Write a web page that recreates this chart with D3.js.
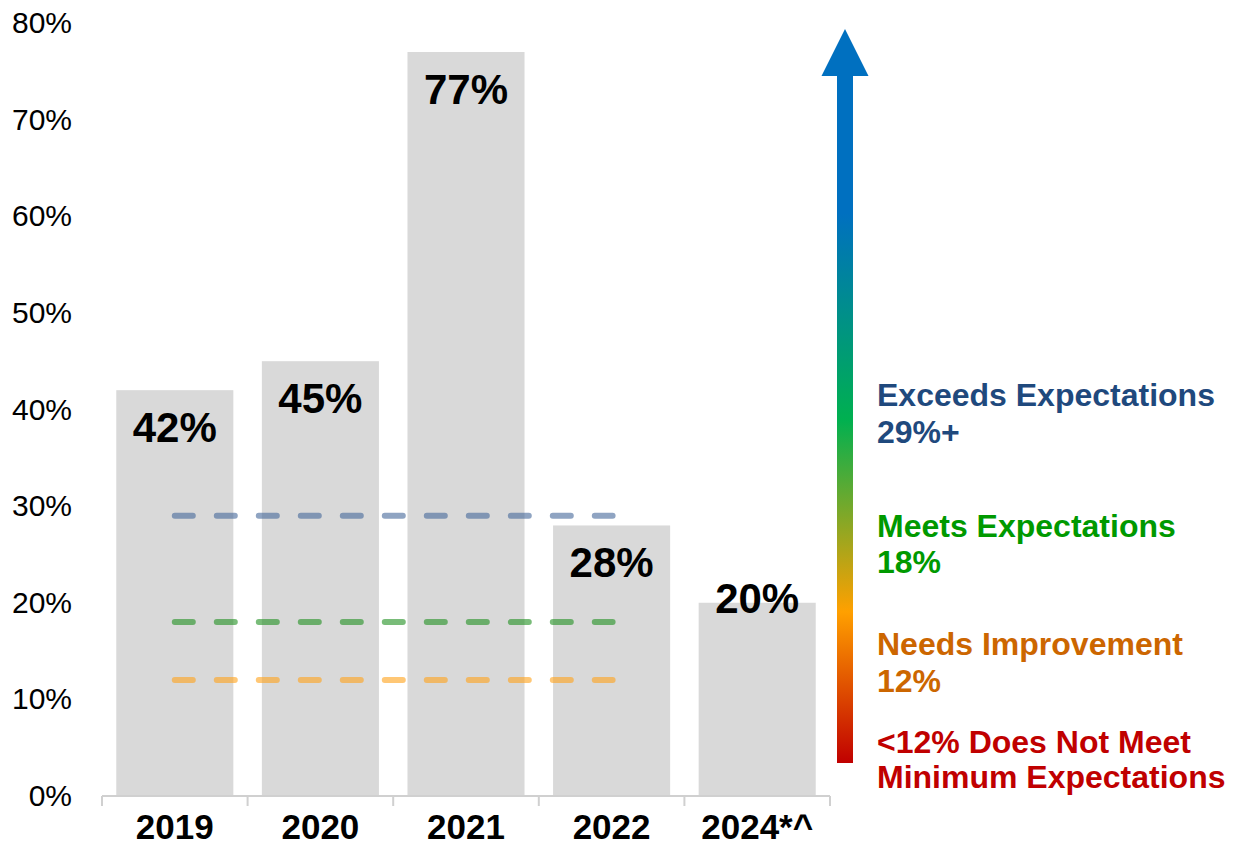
<!DOCTYPE html>
<html>
<head>
<meta charset="utf-8">
<script src="https://cdn.jsdelivr.net/npm/d3@7"></script>
<style>
  html, body { margin: 0; padding: 0; background: #ffffff; }
  svg { display: block; font-family: Arial, "Liberation Sans", sans-serif; }
</style>
</head>
<body>
<svg id="chart" width="1234" height="846"></svg>
<script>
// Share of results per year
const years = ["2019", "2020", "2021", "2022", "2024*^"];
const shares = [42, 45, 77, 28, 20];
// where each value label sits: inside the bar end, or riding on its top edge
const labelPlacement = ["inside", "inside", "inside", "inside", "edge"];

// Performance thresholds drawn as dashed reference lines
const thresholdValues = [29, 18, 12];
const thresholdColors = ["#44689a", "#209020", "#ffa219"];

// Rating key beside the arrow
const ratingTitles = ["Exceeds Expectations", "Meets Expectations", "Needs Improvement", "<12% Does Not Meet"];
const ratingDetails = ["29%+", "18%", "12%", "Minimum Expectations"];
const ratingColors = ["#1f497d", "#009900", "#cc6600", "#c00000"];

const yTicks = [0, 10, 20, 30, 40, 50, 60, 70, 80];

const svg = d3.select("#chart");

const x = d3.scaleBand()
  .domain(years)
  .range([102, 830])
  .paddingInner(0.196)
  .paddingOuter(0.098);

const y = d3.scaleLinear()
  .domain([0, 80])
  .range([796, 23]);

// Y axis: labels only
const yAxis = svg.append("g")
  .attr("transform", "translate(72,0)")
  .call(d3.axisLeft(y).tickValues(yTicks).tickSize(0).tickPadding(0).tickFormat(d => d + "%"));
yAxis.select(".domain").remove();
yAxis.selectAll("text")
  .attr("font-size", 30)
  .attr("fill", "#000")
  .attr("font-family", "Arial, 'Liberation Sans', sans-serif");

// Bars
svg.append("g").selectAll("rect")
  .data(years)
  .join("rect")
  .attr("x", d => x(d))
  .attr("width", x.bandwidth())
  .attr("y", (d, i) => y(shares[i]))
  .attr("height", (d, i) => y(0) - y(shares[i]))
  .attr("fill", "#d9d9d9");

// Dashed threshold lines spanning 2019 → 2022
const lineStart = x(years[0]) + x.bandwidth() / 2;
const lineEnd = x(years[3]) + x.bandwidth() / 2;
svg.append("g").selectAll("line")
  .data(thresholdValues)
  .join("line")
  .attr("x1", lineStart)
  .attr("x2", lineEnd + 1)
  .attr("y1", d => y(d))
  .attr("y2", d => y(d))
  .attr("stroke", (d, i) => thresholdColors[i])
  .attr("stroke-opacity", 0.6)
  .attr("stroke-width", 6)
  .attr("stroke-linecap", "round")
  .attr("stroke-dasharray", "18,24");

// Value labels
svg.append("g").selectAll("text")
  .data(years)
  .join("text")
  .attr("x", d => x(d) + x.bandwidth() / 2)
  .attr("y", (d, i) => y(shares[i]) + (labelPlacement[i] === "inside" ? 52 : 10))
  .attr("text-anchor", "middle")
  .attr("font-size", 42)
  .attr("font-weight", "bold")
  .attr("fill", "#000")
  .text((d, i) => shares[i] + "%");

// X axis: baseline with category dividers
const xAxisG = svg.append("g");
xAxisG.append("line")
  .attr("x1", 102).attr("x2", 830)
  .attr("y1", y(0)).attr("y2", y(0))
  .attr("stroke", "#d0d0d0").attr("stroke-width", 2);
const dividers = years.map(d => x(d) - x.step() * x.paddingInner() / 2).concat([830]);
dividers[0] = 102;
xAxisG.selectAll("line.tick")
  .data(dividers)
  .join("line")
  .attr("class", "tick")
  .attr("x1", d => d).attr("x2", d => d)
  .attr("y1", y(0)).attr("y2", y(0) + 10)
  .attr("stroke", "#d0d0d0").attr("stroke-width", 2);
xAxisG.selectAll("text")
  .data(years)
  .join("text")
  .attr("x", d => x(d) + x.bandwidth() / 2)
  .attr("y", 839)
  .attr("text-anchor", "middle")
  .attr("font-size", 35)
  .attr("font-weight", "bold")
  .attr("fill", "#000")
  .text(d => d);

// Gradient arrow (low → high)
const defs = svg.append("defs");
const grad = defs.append("linearGradient")
  .attr("id", "arrowGrad")
  .attr("gradientUnits", "userSpaceOnUse")
  .attr("x1", 0).attr("x2", 0)
  .attr("y1", 763).attr("y2", 76);
[[0, "#c00000"], [0.22, "#ffa000"], [0.5, "#00b050"], [0.8, "#0070c0"], [1, "#0070c0"]]
  .forEach(([o, c]) => grad.append("stop").attr("offset", o).attr("stop-color", c));

const arrowX = 845;
svg.append("rect")
  .attr("x", arrowX - 8).attr("y", 74)
  .attr("width", 16).attr("height", 763 - 74)
  .attr("fill", "url(#arrowGrad)");
svg.append("path")
  .attr("d", `M${arrowX},29 L${arrowX + 23.5},76 L${arrowX - 23.5},76 Z`)
  .attr("fill", "#0070c0");

// Rating key
const keyBaselines = [406, 537, 655, 753];
const keyLineGap = [37, 36, 37, 35];
const key = svg.append("g");
ratingTitles.forEach((t, i) => {
  const tx = key.append("text")
    .attr("x", 877)
    .attr("y", keyBaselines[i])
    .attr("font-size", 32)
    .attr("font-weight", "bold")
    .attr("fill", ratingColors[i]);
  tx.append("tspan").attr("x", 877).text(t);
  tx.append("tspan").attr("x", 877).attr("dy", keyLineGap[i]).text(ratingDetails[i]);
});
</script>
</body>
</html>
